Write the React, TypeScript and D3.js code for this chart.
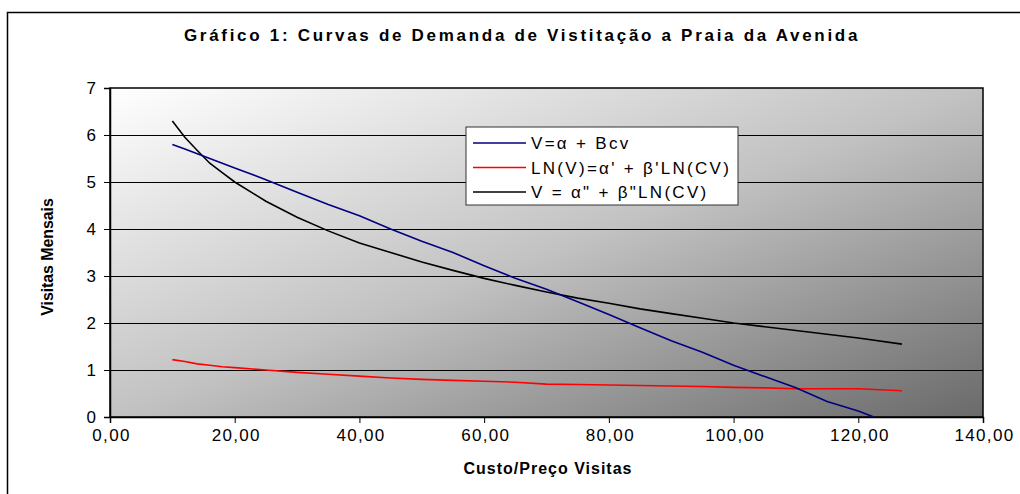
import React, { useEffect, useRef } from 'react';
import * as d3 from 'd3';

// custo/preço das visitas (eixo x) and the three demand curves
const custo = [10, 12, 14, 16, 18, 20, 25, 30, 35, 40, 45, 50, 55, 60, 65, 70, 75, 80, 85, 90, 95, 100, 105, 110, 115, 120];
const linear = [5.8, 5.7, 5.6, 5.5, 5.4, 5.3, 5.05, 4.78, 4.52, 4.28, 4.0, 3.74, 3.5, 3.22, 2.95, 2.72, 2.45, 2.18, 1.9, 1.62, 1.38, 1.1, 0.86, 0.62, 0.33, 0.13];
const logLog = [1.22, 1.18, 1.13, 1.1, 1.07, 1.05, 1.0, 0.95, 0.91, 0.87, 0.83, 0.8, 0.78, 0.76, 0.74, 0.7, 0.69, 0.68, 0.67, 0.66, 0.65, 0.63, 0.62, 0.6, 0.6, 0.6];
const semiLog = [6.3, 5.95, 5.67, 5.4, 5.2, 5.0, 4.59, 4.25, 3.96, 3.7, 3.5, 3.3, 3.12, 2.95, 2.8, 2.66, 2.53, 2.42, 2.3, 2.2, 2.1, 2.0, 1.92, 1.84, 1.76, 1.68];
// last points of each curve
const linearEnd = [122.5, 0];
const logLogEnd = [127, 0.56];
const semiLogEnd = [127, 1.55];

const xTicks = [0, 20, 40, 60, 80, 100, 120, 140];
const yTicks = [0, 1, 2, 3, 4, 5, 6, 7];

const legendItems = [
  { label: 'V=α + Bcv', color: '#000080' },
  { label: "LN(V)=α' + β'LN(CV)", color: '#ff0000' },
  { label: 'V = α" + β"LN(CV)', color: '#000000' },
];

const W = 1020;
const H = 494;
const FONT = '"Liberation Sans", Arial, sans-serif';

export default function App() {
  const ref = useRef<SVGSVGElement>(null);

  useEffect(() => {
    const svg = d3.select(ref.current);
    svg.selectAll('*').remove();

    const margin = { top: 88, left: 110, right: W - 983, bottom: H - 417 };
    const x = d3.scaleLinear().domain([0, 140]).range([margin.left, W - margin.right]);
    const y = d3.scaleLinear().domain([0, 7]).range([H - margin.bottom, margin.top]);

    // outer chart frame
    svg.append('rect')
      .attr('x', 7.5).attr('y', 12.5)
      .attr('width', W + 20).attr('height', H + 20)
      .attr('fill', 'white').attr('stroke', '#000').attr('stroke-width', 1.5);

    const defs = svg.append('defs');
    const grad = defs.append('linearGradient')
      .attr('id', 'bg').attr('x1', 0).attr('y1', 0).attr('x2', 1).attr('y2', 1);
    grad.append('stop').attr('offset', '0%').attr('stop-color', '#ffffff');
    grad.append('stop').attr('offset', '50%').attr('stop-color', '#c2c2c2');
    grad.append('stop').attr('offset', '100%').attr('stop-color', '#6a6a6a');

    svg.append('rect')
      .attr('x', x(0)).attr('y', y(7))
      .attr('width', x(140) - x(0)).attr('height', y(0) - y(7))
      .attr('fill', 'url(#bg)');

    // gridlines
    svg.append('g')
      .selectAll('line')
      .data(yTicks.slice(1, -1))
      .join('line')
      .attr('x1', x(0)).attr('x2', x(140))
      .attr('y1', (d) => Math.round(y(d)) + 0.5).attr('y2', (d) => Math.round(y(d)) + 0.5)
      .attr('stroke', '#000').attr('stroke-width', 1);

    // plot border
    svg.append('rect')
      .attr('x', x(0)).attr('y', y(7))
      .attr('width', x(140) - x(0)).attr('height', y(0) - y(7))
      .attr('fill', 'none').attr('stroke', '#000').attr('stroke-width', 1.5);

    // axes
    const xAxis = d3.axisBottom(x)
      .tickValues(xTicks)
      .tickSize(6)
      .tickPadding(6)
      .tickFormat((d) => (d as number).toFixed(2).replace('.', ','));
    const gx = svg.append('g')
      .attr('transform', `translate(0,${y(0)})`)
      .call(xAxis);
    gx.select('.domain').attr('stroke-width', 1.5);
    gx.selectAll('text')
      .attr('font-family', FONT).attr('font-size', 17).attr('fill', '#000')
      .attr('letter-spacing', 1.3).attr('dx', 1);

    const yAxis = d3.axisLeft(y)
      .tickValues(yTicks)
      .tickSize(6)
      .tickPadding(8)
      .tickFormat((d) => String(d));
    const gy = svg.append('g')
      .attr('transform', `translate(${x(0)},0)`)
      .call(yAxis);
    gy.select('.domain').attr('stroke-width', 1.5);
    gy.selectAll('text')
      .attr('font-family', FONT).attr('font-size', 17).attr('fill', '#000');

    // curves
    const line = d3.line<number[]>()
      .x((d) => x(d[0]))
      .y((d) => y(d[1]));

    const series = [
      { pts: custo.map((c, i) => [c, logLog[i]]).concat([logLogEnd]), color: '#ff0000' },
      { pts: custo.map((c, i) => [c, semiLog[i]]).concat([semiLogEnd]), color: '#000000' },
      { pts: custo.map((c, i) => [c, linear[i]]).concat([linearEnd]), color: '#000080' },
    ];
    svg.append('g')
      .selectAll('path')
      .data(series)
      .join('path')
      .attr('d', (d) => line(d.pts))
      .attr('fill', 'none')
      .attr('stroke', (d) => d.color)
      .attr('stroke-width', 1.6);

    // legend
    const lg = svg.append('g').attr('transform', 'translate(466,127)');
    lg.append('rect')
      .attr('width', 272).attr('height', 78)
      .attr('fill', 'white').attr('stroke', '#333').attr('stroke-width', 1);
    legendItems.forEach((item, i) => {
      const cy = 16 + i * 24.5;
      lg.append('line')
        .attr('x1', 7).attr('x2', 60)
        .attr('y1', cy).attr('y2', cy)
        .attr('stroke', item.color).attr('stroke-width', 1.5);
      lg.append('text')
        .attr('x', 65).attr('y', cy + 6)
        .attr('font-family', FONT).attr('font-size', 17)
        .attr('letter-spacing', 2.3)
        .text(item.label);
    });

    // titles
    svg.append('text')
      .attr('x', 522).attr('y', 41)
      .attr('text-anchor', 'middle')
      .attr('font-family', FONT).attr('font-size', 17).attr('font-weight', 'bold')
      .attr('letter-spacing', 2.7)
      .text('Gráfico 1: Curvas de Demanda de Vistitação a Praia da Avenida');

    svg.append('text')
      .attr('x', 548).attr('y', 474)
      .attr('text-anchor', 'middle')
      .attr('font-family', FONT).attr('font-size', 16).attr('font-weight', 'bold')
      .attr('letter-spacing', 1)
      .text('Custo/Preço Visitas');

    svg.append('text')
      .attr('transform', 'translate(53,257) rotate(-90)')
      .attr('text-anchor', 'middle')
      .attr('font-family', FONT).attr('font-size', 16).attr('font-weight', 'bold')
      .attr('letter-spacing', -0.1)
      .text('Visitas Mensais');
  }, []);

  return (
    <svg
      ref={ref}
      width={W}
      height={H}
      style={{ position: 'absolute', left: 0, top: 0, background: 'white' }}
    />
  );
}
